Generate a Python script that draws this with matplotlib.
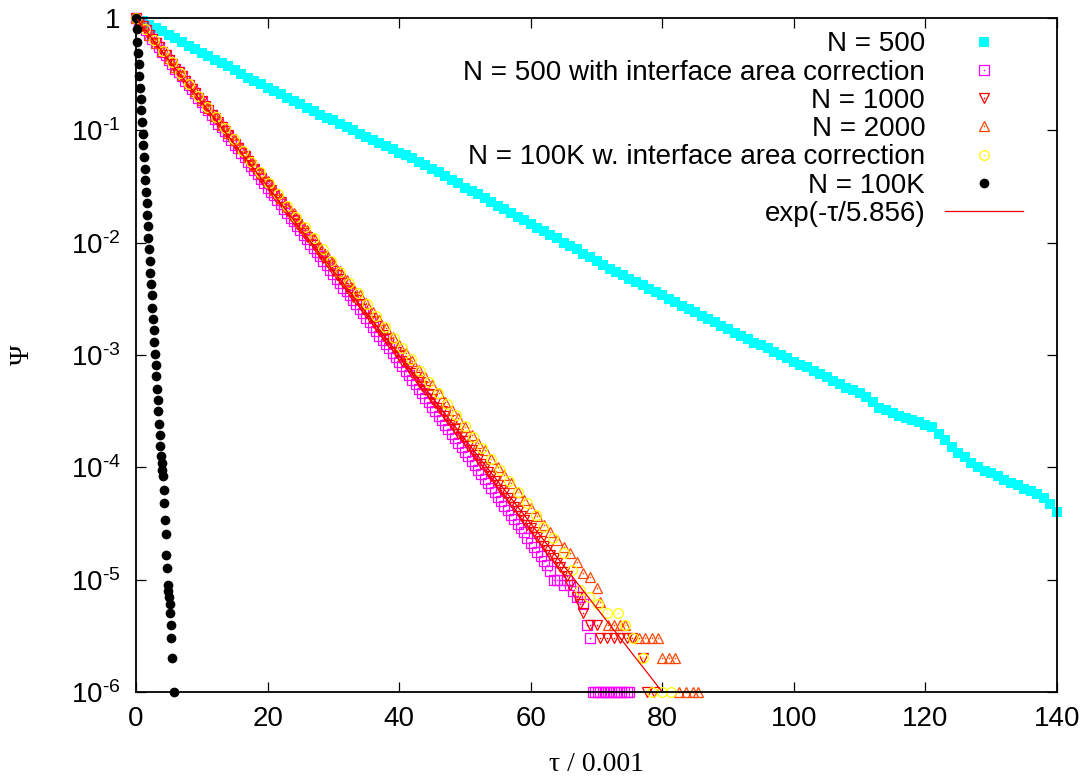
import numpy as np
import matplotlib
matplotlib.use('Agg')
import matplotlib.pyplot as plt
from matplotlib.ticker import NullLocator
from matplotlib.legend_handler import HandlerTuple

plt.rcParams['font.family'] = ['Liberation Sans', 'DejaVu Sans']
plt.rcParams['mathtext.fontset'] = 'custom'
plt.rcParams['mathtext.rm'] = 'Liberation Sans'
plt.rcParams['mathtext.it'] = 'Liberation Sans:italic'

# all Psi values are given as log10(Psi)

# N = 500, one point per unit of tau
tau_500 = np.arange(0, 141)
lpsi_500 = [
    0.00, -0.03, -0.06, -0.09, -0.12, -0.15, -0.18, -0.21, -0.25, -0.28,
    -0.31, -0.34, -0.37, -0.40, -0.43, -0.46, -0.50, -0.53, -0.56, -0.59,
    -0.62, -0.65, -0.68, -0.71, -0.74, -0.77, -0.80, -0.83, -0.86, -0.89,
    -0.91, -0.94, -0.97, -1.00, -1.03, -1.06, -1.09, -1.11, -1.14, -1.17,
    -1.20, -1.22, -1.25, -1.28, -1.31, -1.34, -1.37, -1.41, -1.44, -1.47,
    -1.51, -1.54, -1.57, -1.60, -1.64, -1.67, -1.70, -1.74, -1.77, -1.80,
    -1.83, -1.87, -1.90, -1.93, -1.96, -2.00, -2.03, -2.06, -2.10, -2.13,
    -2.16, -2.20, -2.23, -2.26, -2.29, -2.32, -2.35, -2.38, -2.41, -2.44,
    -2.47, -2.50, -2.53, -2.56, -2.59, -2.62, -2.65, -2.68, -2.71, -2.74,
    -2.77, -2.80, -2.83, -2.86, -2.89, -2.91, -2.94, -2.97, -3.00, -3.03,
    -3.06, -3.09, -3.11, -3.14, -3.17, -3.20, -3.23, -3.26, -3.29, -3.31,
    -3.34, -3.37, -3.42, -3.47, -3.49, -3.52, -3.54, -3.56, -3.58, -3.60,
    -3.62, -3.64, -3.70, -3.76, -3.82, -3.87, -3.91, -3.96, -4.00, -4.03,
    -4.05, -4.08, -4.11, -4.14, -4.16, -4.19, -4.21, -4.24, -4.27, -4.33,
    -4.40,
]

# N = 500 with interface area correction, half-unit spacing
tau_500c = np.arange(0, 63, 0.5)
lpsi_500c = [
    0.00, -0.04, -0.07, -0.11, -0.15, -0.19, -0.22, -0.26, -0.30, -0.33,
    -0.37, -0.41, -0.45, -0.48, -0.52, -0.56, -0.60, -0.63, -0.67, -0.71,
    -0.75, -0.79, -0.82, -0.86, -0.90, -0.94, -0.97, -1.01, -1.05, -1.09,
    -1.13, -1.16, -1.20, -1.24, -1.28, -1.32, -1.35, -1.39, -1.43, -1.47,
    -1.51, -1.55, -1.58, -1.62, -1.66, -1.70, -1.74, -1.78, -1.81, -1.85,
    -1.89, -1.93, -1.97, -2.01, -2.05, -2.08, -2.12, -2.16, -2.20, -2.24,
    -2.28, -2.32, -2.36, -2.40, -2.43, -2.47, -2.51, -2.55, -2.59, -2.63,
    -2.67, -2.71, -2.75, -2.79, -2.83, -2.87, -2.90, -2.94, -2.98, -3.02,
    -3.06, -3.10, -3.14, -3.18, -3.22, -3.26, -3.30, -3.34, -3.38, -3.42,
    -3.46, -3.50, -3.54, -3.58, -3.62, -3.66, -3.70, -3.74, -3.78, -3.82,
    -3.86, -3.90, -3.94, -3.98, -4.02, -4.06, -4.10, -4.14, -4.18, -4.22,
    -4.26, -4.30, -4.34, -4.38, -4.42, -4.46, -4.50, -4.54, -4.58, -4.63,
    -4.67, -4.71, -4.75, -4.79, -4.83, -4.87,
]
tail_500c = [
    (63, -4.92), (63.5, -5.00), (64, -5.00), (64.5, -5.00), (65, -5.05),
    (65.5, -5.00), (66, -5.05), (66.5, -5.10), (67, -5.15), (67.5, -5.15),
    (68, -5.22), (68.5, -5.40), (69, -5.52), (69.4, -6), (69.8, -6),
    (70.2, -6), (70.6, -6), (71.0, -6), (71.4, -6), (71.8, -6), (72.2, -6),
    (72.6, -6), (73.0, -6), (73.4, -6), (73.8, -6), (74.2, -6), (74.6, -6),
    (75.0, -6),
]

# N = 1000, half-unit spacing
tau_1000 = np.arange(0, 66, 0.5)
lpsi_1000 = [
    0.00, -0.04, -0.07, -0.11, -0.15, -0.19, -0.22, -0.26, -0.30, -0.33,
    -0.37, -0.41, -0.45, -0.48, -0.52, -0.56, -0.60, -0.63, -0.67, -0.71,
    -0.74, -0.78, -0.82, -0.86, -0.89, -0.93, -0.97, -1.01, -1.04, -1.08,
    -1.12, -1.16, -1.19, -1.23, -1.27, -1.31, -1.34, -1.38, -1.42, -1.46,
    -1.49, -1.53, -1.57, -1.61, -1.64, -1.68, -1.72, -1.76, -1.80, -1.83,
    -1.87, -1.91, -1.95, -1.98, -2.02, -2.06, -2.10, -2.14, -2.17, -2.21,
    -2.25, -2.29, -2.32, -2.36, -2.40, -2.44, -2.48, -2.51, -2.55, -2.59,
    -2.63, -2.67, -2.70, -2.74, -2.78, -2.82, -2.86, -2.89, -2.93, -2.97,
    -3.01, -3.05, -3.08, -3.12, -3.16, -3.20, -3.24, -3.28, -3.31, -3.35,
    -3.39, -3.43, -3.47, -3.50, -3.54, -3.58, -3.62, -3.66, -3.70, -3.73,
    -3.77, -3.81, -3.85, -3.89, -3.93, -3.97, -4.00, -4.04, -4.08, -4.12,
    -4.16, -4.20, -4.23, -4.27, -4.31, -4.35, -4.39, -4.43, -4.47, -4.51,
    -4.54, -4.58, -4.62, -4.66, -4.70, -4.74, -4.78, -4.81, -4.85, -4.89,
    -4.93, -4.97,
]
tail_1000 = [
    (66, -5.05), (67, -5.15), (67.5, -5.22), (68, -5.30), (69, -5.40),
    (70, -5.40), (70.6, -5.52), (71.6, -5.52), (72.6, -5.52), (73.6, -5.52),
    (74.6, -5.52), (75.4, -5.52), (77.1, -5.70), (77.7, -6), (78.7, -6),
]

# N = 2000
tau_2000 = np.arange(0, 65)
lpsi_2000 = [
    0.00, -0.07, -0.15, -0.22, -0.29, -0.36, -0.44, -0.51, -0.58, -0.65,
    -0.73, -0.80, -0.87, -0.95, -1.02, -1.09, -1.16, -1.24, -1.31, -1.38,
    -1.45, -1.53, -1.60, -1.67, -1.74, -1.82, -1.89, -1.96, -2.04, -2.11,
    -2.18, -2.25, -2.33, -2.40, -2.47, -2.54, -2.62, -2.69, -2.76, -2.84,
    -2.91, -2.98, -3.05, -3.13, -3.20, -3.27, -3.34, -3.42, -3.49, -3.56,
    -3.64, -3.71, -3.78, -3.85, -3.93, -4.00, -4.07, -4.14, -4.22, -4.29,
    -4.36, -4.43, -4.51, -4.58, -4.65,
]
tail_2000 = [
    (65, -4.71), (66, -4.76), (67, -4.84), (68, -4.94), (69, -4.98),
    (70, -5.07), (70.6, -5.20), (71.8, -5.40), (72.7, -5.40), (73.6, -5.40),
    (74.4, -5.40), (76.4, -5.52), (77.4, -5.52), (78.4, -5.52), (79.3, -5.52),
    (80.0, -5.70), (81.0, -5.70), (82.0, -5.70), (82.6, -6), (83.6, -6),
    (84.6, -6), (85.4, -6),
]

# N = 100K with interface area correction
tau_100kc = np.arange(0, 61, 1.35)
lpsi_100kc = [
    0.00, -0.10, -0.20, -0.29, -0.39, -0.49, -0.59, -0.69, -0.79, -0.88,
    -0.98, -1.08, -1.18, -1.28, -1.37, -1.47, -1.57, -1.67, -1.77, -1.86,
    -1.96, -2.06, -2.16, -2.26, -2.36, -2.45, -2.55, -2.65, -2.75, -2.85,
    -2.94, -3.04, -3.14, -3.24, -3.34, -3.44, -3.53, -3.63, -3.73, -3.83,
    -3.93, -4.02, -4.12, -4.22, -4.32, -4.42,
]
tail_100kc = [
    (61.9, -4.53), (63.4, -4.63), (65.0, -4.76), (66.3, -4.91), (67.5, -5.09),
    (68.8, -5.15), (70.3, -5.22), (71.6, -5.30), (73.2, -5.30), (74.4, -5.40),
    (75.6, -5.52), (77.1, -5.70), (78.5, -6), (80.0, -6), (81.3, -6),
]

# N = 100K
tau_100k = np.arange(0, 4.35, 0.1)
lpsi_100k = [
    0.00, -0.10, -0.21, -0.31, -0.41, -0.52, -0.62, -0.72, -0.82, -0.93,
    -1.03, -1.13, -1.24, -1.34, -1.44, -1.55, -1.65, -1.75, -1.85, -1.96,
    -2.06, -2.16, -2.27, -2.37, -2.47, -2.58, -2.68, -2.78, -2.88, -2.99,
    -3.09, -3.19, -3.30, -3.40, -3.50, -3.61, -3.71, -3.81, -3.90, -3.96,
    -4.02, -4.08, -4.20, -4.32,
]
tail_100k = [
    (4.4, -4.47), (4.5, -4.59), (4.6, -4.78), (4.7, -4.90), (4.85, -5.05),
    (4.9, -5.10), (5.0, -5.15), (5.1, -5.22), (5.2, -5.30), (5.3, -5.40),
    (5.35, -5.52), (5.45, -5.70), (5.85, -6.0),
]

# exp(-tau/5.856): straight on the log axis, from Psi=1 down to the bottom edge
fit_tau = [0, 80.0]
fit_psi = [1.0, 1e-6]


def series(tau, lpsi, tail=()):
    x = list(tau) + [t[0] for t in tail]
    y = list(lpsi) + [t[1] for t in tail]
    return np.array(x, float), 10.0 ** np.array(y, float)


fig = plt.figure(figsize=(10.88, 7.78), dpi=100)
ax = fig.add_axes([136 / 1088, 1 - 692 / 778, 921 / 1088, 674 / 778])

handles = []

x, y = series(tau_500, lpsi_500)
h, = ax.plot(x, y, ls='none', marker='s', ms=7, color='#00ffff', mew=0, clip_on=False)
handles.append(h)

# open markers: gnuplot puts a tiny dot in the middle of each one
opens = [
    (series(tau_500c, lpsi_500c, tail_500c), 's', '#ff00ff', 7),
    (series(tau_1000, lpsi_1000, tail_1000), 'v', '#ff0000', 7.5),
    (series(tau_2000, lpsi_2000, tail_2000), '^', '#ff4500', 7.5),
    (series(tau_100kc, lpsi_100kc, tail_100kc), 'o', '#ffff00', 7),
]
for (x, y), mk, c, ms in opens:
    h, = ax.plot(x, y, ls='none', marker=mk, ms=ms, mfc='none', mec=c, mew=0.9, clip_on=False)
    d, = ax.plot(x, y, ls='none', marker='o', ms=1.2, color=c, mew=0, clip_on=False)
    handles.append((h, d))

x, y = series(tau_100k, lpsi_100k, tail_100k)
h, = ax.plot(x, y, ls='none', marker='o', ms=7, color='black', mew=0, clip_on=False)
handles.append(h)

h, = ax.plot(fit_tau, fit_psi, color='#ee0000', lw=0.9)
handles.append(h)

labels = ['N = 500', 'N = 500 with interface area correction', 'N = 1000',
          'N = 2000', 'N = 100K w. interface area correction', 'N = 100K',
          'exp(-\u03c4/5.856)']

ax.set_yscale('log')
ax.set_xlim(0, 140)
ax.set_ylim(1e-6, 1)
ax.set_xticks(np.arange(0, 141, 20))
ax.set_yticks([1e-6, 1e-5, 1e-4, 1e-3, 1e-2, 1e-1, 1])
ax.set_yticklabels([r'$10^{\text{-}6}$', r'$10^{\text{-}5}$', r'$10^{\text{-}4}$',
                    r'$10^{\text{-}3}$', r'$10^{\text{-}2}$', r'$10^{\text{-}1}$', '1'])
ax.yaxis.set_minor_locator(NullLocator())
ax.tick_params(which='major', direction='in', top=True, right=True,
               length=7, width=0.9, labelsize=20)
ax.tick_params(axis='x', pad=10)
ax.tick_params(axis='y', pad=11)
for s in ax.spines.values():
    s.set_linewidth(1.3)

ax.set_xlabel('\u03c4 / 0.001', family='Liberation Serif', fontsize=20)
ax.set_ylabel('\u03a8', family='Liberation Serif', fontsize=20)
ax.xaxis.set_label_coords(0.5, -0.089)
ax.yaxis.set_label_coords(-0.110, 0.5)

leg = ax.legend(handles, labels, loc='upper right', bbox_to_anchor=(0.963, 0.98),
                markerfirst=False, frameon=False, fontsize=20, numpoints=1,
                handlelength=2.8, handletextpad=0.72, labelspacing=0.08,
                borderpad=0, borderaxespad=0,
                handler_map={tuple: HandlerTuple(ndivide=1, pad=0)})

fig.savefig('out.png', dpi=100)
